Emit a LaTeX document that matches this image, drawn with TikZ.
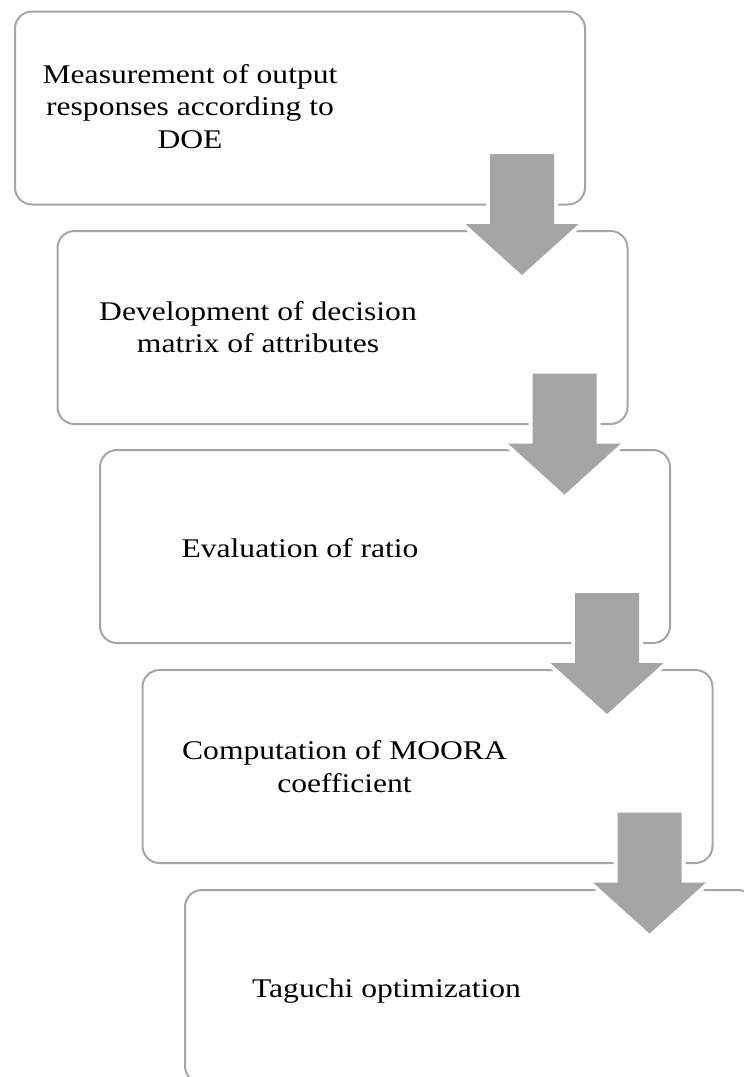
\documentclass[tikz,border=0pt]{standalone}
\usepackage{fontspec}
\setmainfont{Liberation Serif}[FakeStretch=1.17]
\definecolor{boxgray}{HTML}{A6A6A6}
\definecolor{arrowgray}{HTML}{A5A5A5}
\tikzset{
  stepbox/.style={draw=boxgray, line width=2pt, rounded corners=17pt,
    minimum width=570pt, minimum height=193pt, inner sep=0pt},
  steptext/.style={font=\fontsize{27}{32.5}\selectfont, align=center, inner sep=0pt, text=black},
  blockarrow/.style={fill=arrowgray, preaction={draw=white, line width=8pt, line join=round}}
}
\begin{document}
\begin{tikzpicture}[x=1pt,y=-1pt]
\useasboundingbox (0,0) rectangle (744,1077);
\clip (0,0) rectangle (744,1077);
% boxes
\node[stepbox] (b1) at (300,108) {};
\node[stepbox] (b2) at (342.5,327.5) {};
\node[stepbox] (b3) at (385,546.5) {};
\node[stepbox] (b4) at (427.5,766.5) {};
\node[stepbox] (b5) at (470,986.5) {};
% texts
\node[steptext] (t1) at (190,106.3) {Measurement of output\\responses according to\\DOE};
\node[steptext] (t2) at (258,327.3) {Development of decision\\matrix of attributes};
\node[steptext] (t3) at (300,548) {Evaluation of ratio};
\node[steptext] (t4) at (344.5,766.8) {Computation of MOORA\\coefficient};
\node[steptext] (t5) at (386.5,990.7) {Taguchi optimization};
% block arrows
\foreach \k in {0,1,2,3}{
  \pgfmathsetmacro\cx{522+42.5*\k}
  \pgfmathsetmacro\ty{154+219.5*\k}
  \coordinate (a\k) at (\cx,\ty);
  \path[blockarrow] ([xshift=-32pt]a\k) -- ([xshift=32pt]a\k)
    -- ([xshift=32pt,yshift=-70pt]a\k) -- ([xshift=56.5pt,yshift=-70pt]a\k)
    -- ([yshift=-121pt]a\k) -- ([xshift=-56.5pt,yshift=-70pt]a\k)
    -- ([xshift=-32pt,yshift=-70pt]a\k) -- cycle;
}
\end{tikzpicture}
\end{document}
